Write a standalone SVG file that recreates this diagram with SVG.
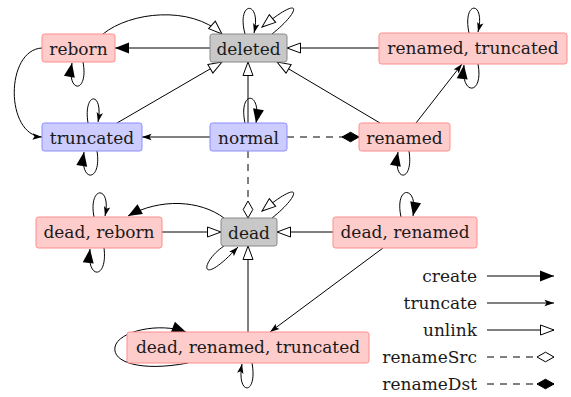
<svg xmlns="http://www.w3.org/2000/svg" width="571" height="397" viewBox="0 0 571 397">
<defs>
<style>
text{font-family:"DejaVu Serif","Liberation Serif",serif;font-size:17px;fill:#1a1a1a}
.n text{text-anchor:middle}
.lg text{text-anchor:end}
rect{stroke-width:1}
.red rect{fill:#ffcccc;stroke:#ff8c8c}
.blue rect{fill:#ccccff;stroke:#8c8cff}
.gray rect{fill:#c8c8c8;stroke:#888888}
.e path,.e line{fill:none;stroke:#000;stroke-width:1}
.cr{marker-end:url(#create)}
.tr{marker-end:url(#trunc)}
.ul{marker-end:url(#unlink)}
.rs{marker-end:url(#rsrc);stroke-dasharray:7 6}
.rd{marker-end:url(#rdst);stroke-dasharray:7 6}
</style>
<marker id="create" markerUnits="userSpaceOnUse" markerWidth="16" markerHeight="13" refX="15" refY="6.5" orient="auto" overflow="visible">
<path d="M1,1 L15,6.5 L1,12 z" fill="#000"/>
</marker>
<marker id="trunc" markerUnits="userSpaceOnUse" markerWidth="10" markerHeight="8" refX="9.5" refY="4" orient="auto" overflow="visible">
<path d="M0,0.8 L9.5,4 L0,7.2 L2,4 z" fill="#000"/>
</marker>
<marker id="unlink" markerUnits="userSpaceOnUse" markerWidth="16" markerHeight="13" refX="15" refY="6.5" orient="auto" overflow="visible">
<path d="M1.5,1.5 L15,6.5 L1.5,11.5 z" fill="#fff" stroke="#000" stroke-width="1"/>
</marker>
<marker id="rsrc" markerUnits="userSpaceOnUse" markerWidth="19" markerHeight="12" refX="18" refY="6" orient="auto" overflow="visible">
<path d="M1,6 L9.5,1.2 L18,6 L9.5,10.8 z" fill="#fff" stroke="#000" stroke-width="1"/>
</marker>
<marker id="rdst" markerUnits="userSpaceOnUse" markerWidth="19" markerHeight="12" refX="18" refY="6" orient="auto" overflow="visible">
<path d="M1,6 L9.5,1.2 L18,6 L9.5,10.8 z" fill="#000" stroke="#000" stroke-width="1"/>
</marker>
</defs>

<g id="connectors" class="e">
<line x1="210" y1="48" x2="115" y2="48" class="cr"/>
<path d="M103,34 C130,12 190,5 222,34" class="ul"/>
<path d="M83,62 C89,94 66,94 72,63" class="cr"/>
<path d="M42,48 C5,50 5,135 42,137" class="tr"/>
<line x1="117" y1="123" x2="222" y2="62" class="ul"/>
<path d="M88,123 C83,91 104,91 98,122" class="tr"/>
<path d="M97,151 C102,183 79,183 84,152" class="cr"/>
<line x1="210" y1="137" x2="142" y2="137" class="tr"/>
<line x1="248" y1="123" x2="248" y2="62" class="ul"/>
<path d="M245,123 C238,90 262,90 256,123" class="cr"/>
<line x1="287" y1="137" x2="359" y2="137" class="rd"/>
<line x1="248" y1="151" x2="248" y2="218" class="rs"/>
<path d="M245,34 C236,0 262,0 254,33" class="tr"/>
<path d="M272,34 C300,12 305,-8 262,27" class="ul"/>
<line x1="379" y1="48" x2="287" y2="48" class="ul"/>
<line x1="380" y1="123" x2="277" y2="62" class="ul"/>
<line x1="416" y1="123" x2="462" y2="64" class="tr"/>
<path d="M469,33 C462,0 486,0 478,32" class="tr"/>
<path d="M478,64 C484,96 460,96 464,65" class="cr"/>
<path d="M409,151 C414,183 392,183 398,152" class="cr"/>
<path d="M94,217 C88,185 112,185 105,216" class="tr"/>
<path d="M104,248 C108,280 86,280 90,249" class="cr"/>
<path d="M224,218 C200,200 160,198 128,216" class="cr"/>
<line x1="162" y1="232" x2="221" y2="232" class="ul"/>
<path d="M272,218 C300,196 305,176 262,211" class="ul"/>
<path d="M224,246 C200,262 198,290 238,247" class="tr"/>
<line x1="333" y1="232" x2="277" y2="232" class="ul"/>
<path d="M401,217 C394,184 419,185 413,216" class="cr"/>
<line x1="383" y1="248" x2="270" y2="332" class="tr"/>
<line x1="248" y1="332" x2="248" y2="246" class="ul"/>
<path d="M188,363 C140,372 112,362 115,347 C118,331 160,322 186,332" class="cr"/>
<path d="M252,363 C258,396 236,396 242,364" class="tr"/>
</g>

<g id="reborn" class="n red"><rect x="42" y="34" width="73" height="28" rx="2.5"/><text x="78.5" y="54.5">reborn</text></g>
<g id="deleted" class="n gray"><rect x="210" y="34" width="77" height="28" rx="2.5"/><text x="248.5" y="54.5">deleted</text></g>
<g id="renamed-truncated" class="n red"><rect x="379" y="33" width="188" height="31" rx="2.5"/><text x="473" y="53.5">renamed, truncated</text></g>
<g id="truncated" class="n blue"><rect x="42" y="123" width="100" height="28" rx="2.5"/><text x="92" y="143.5">truncated</text></g>
<g id="normal" class="n blue"><rect x="210" y="123" width="77" height="28" rx="2.5"/><text x="248.5" y="143.5">normal</text></g>
<g id="renamed" class="n red"><rect x="359" y="123" width="91" height="28" rx="2.5"/><text x="404.5" y="143.5">renamed</text></g>
<g id="dead-reborn" class="n red"><rect x="36" y="217" width="126" height="31" rx="2.5"/><text x="99" y="237.5">dead, reborn</text></g>
<g id="dead" class="n gray"><rect x="221" y="218" width="56" height="28" rx="2.5"/><text x="249" y="238.5">dead</text></g>
<g id="dead-renamed" class="n red"><rect x="333" y="217" width="144" height="31" rx="2.5"/><text x="405" y="237.5">dead, renamed</text></g>
<g id="dead-renamed-truncated" class="n red"><rect x="127" y="332" width="242" height="31" rx="2.5"/><text x="248" y="352.5">dead, renamed, truncated</text></g>

<g id="legend" class="lg">
<text x="477" y="282">create</text>
<text x="477" y="309">truncate</text>
<text x="477" y="336">unlink</text>
<text x="477" y="363">renameSrc</text>
<text x="477" y="390">renameDst</text>
<g class="e">
<line x1="487" y1="276" x2="554" y2="276" class="cr"/>
<line x1="487" y1="303" x2="554" y2="303" class="tr"/>
<line x1="487" y1="330" x2="554" y2="330" class="ul"/>
<line x1="487" y1="357" x2="554" y2="357" class="rs"/>
<line x1="487" y1="384" x2="554" y2="384" class="rd"/>
</g>
</g>
</svg>
